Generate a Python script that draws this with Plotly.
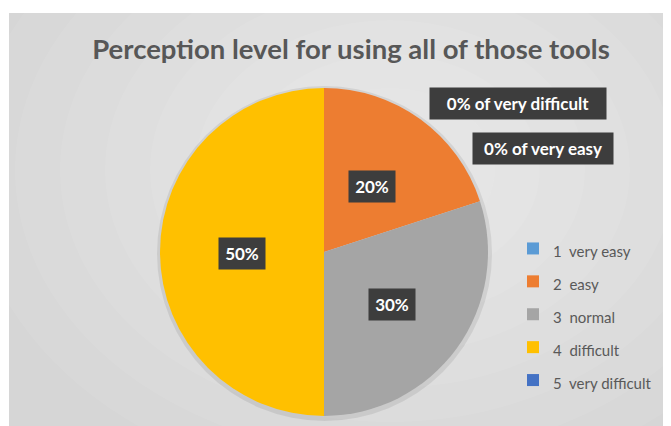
import plotly.graph_objects as go

# data
levels = ["very easy", "easy", "normal", "difficult", "very difficult"]
codes = ["1", "2", "3", "4", "5"]
percents = [0, 20, 30, 50, 0]
colors = ["#5b9bd5", "#ed7d31", "#a5a5a5", "#ffc000", "#4472c4"]

# the page body keeps an 8px margin, so the figure is shifted by that much
OFF = 8
W, H = 671, 426 - OFF
FONT = "Lato, 'Open Sans', sans-serif"

def px(x):
    return (x - OFF) / W

def py(y):
    return 1 - (y - OFF) / H

# legend labels; the small span keeps the text size while the legend font sets the row height
legend_labels = [f"<span style='font-size:15px'>{c}  {l}</span>" for c, l in zip(codes, levels)]

fig = go.Figure()
fig.add_trace(go.Pie(
    labels=legend_labels,
    values=percents,
    sort=False,
    direction="clockwise",
    rotation=0,
    marker=dict(colors=colors, line=dict(width=0)),
    textinfo="none",
    hoverinfo="label+percent",
    domain=dict(x=[px(160), px(488)], y=[py(416), py(88)]),
))

# background: grey panel with a soft lighter centre
shapes = [dict(type="rect", xref="paper", yref="paper", x0=px(9), x1=1, y0=0, y1=py(13),
               fillcolor="#d6d6d6", line_width=0, layer="below")]
cx, cy = 390, 170
for k in range(8):
    rx = 420 - k * 45
    ry = 320 - k * 34
    shapes.append(dict(type="circle", xref="paper", yref="paper",
                       x0=px(cx - rx), x1=px(cx + rx), y0=py(cy + ry), y1=py(cy - ry),
                       fillcolor="rgba(255,255,255,0.07)", line_width=0, layer="below"))
# pie shadow
shapes.append(dict(type="circle", xref="paper", yref="paper",
                   x0=px(157), x1=px(492), y0=py(421), y1=py(86),
                   fillcolor="rgba(0,0,0,0.08)", line_width=0, layer="below"))

# data labels
box = dict(bgcolor="#3d3d3d", borderpad=5, showarrow=False, xref="paper", yref="paper",
           xanchor="center", yanchor="middle",
           font=dict(family=FONT, size=17, color="white", weight="bold"))
annotations = [
    dict(text=f"{percents[1]}%", x=px(372), y=py(187), width=36, **box),
    dict(text=f"{percents[2]}%", x=px(392), y=py(304), width=36, **box),
    dict(text=f"{percents[3]}%", x=px(242), y=py(254), width=36, **box),
    dict(text=f"{percents[4]}% of {levels[4]}", x=px(518), y=py(104), width=166, **box),
    dict(text=f"{percents[0]}% of {levels[0]}", x=px(543), y=py(148), width=130, **box),
]

fig.update_layout(
    width=W, height=H,
    margin=dict(l=0, r=0, t=0, b=0),
    paper_bgcolor="white",
    shapes=shapes,
    annotations=annotations,
    title=dict(text="Perception level for using all of those tools",
               x=px(351), xanchor="center", y=py(49), yanchor="middle",
               font=dict(family=FONT, size=27.5, color="#575757", weight="bold")),
    showlegend=True,
    legend=dict(x=px(513), xanchor="left", y=py(227), yanchor="top",
                bgcolor="rgba(0,0,0,0)", font=dict(family=FONT, size=23, color="#595959")),
)

fig.write_html("out.html")
